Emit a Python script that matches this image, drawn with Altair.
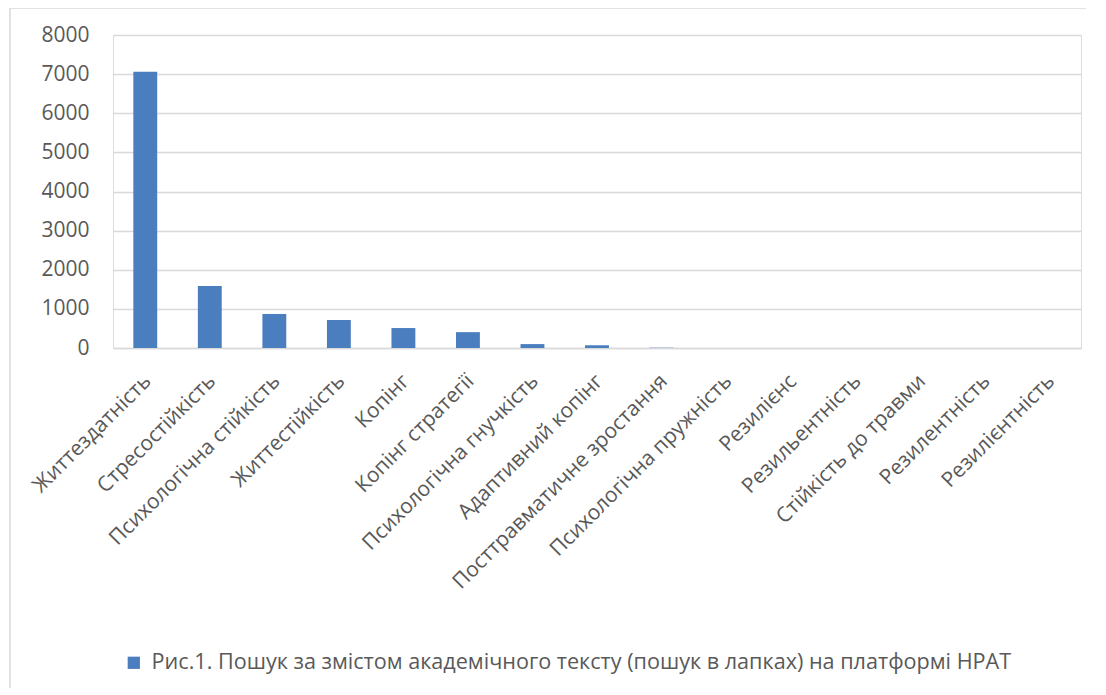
import altair as alt
import pandas as pd

categories = [
    "Життездатність", "Стресостійкість", "Психологічна стійкість", "Життестійкість",
    "Копінг", "Копінг стратегії", "Психологічна гнучкість", "Адаптивний копінг",
    "Посттравматичне зростання", "Психологічна пружність", "Резилієнс",
    "Резильентність", "Стійкість до травми", "Резилентність", "Резилієнтність",
]
values = [7060, 1585, 870, 715, 510, 405, 100, 70, 8, 0, 0, 0, 0, 0, 0]
series_name = "Рис.1. Пошук за змістом академічного тексту (пошук в лапках) на платформі НРАТ"
y_ticks = [0, 1000, 2000, 3000, 4000, 5000, 6000, 7000, 8000]

df = pd.DataFrame({"cat": categories, "val": values, "series": [series_name] * len(categories)})

FONT = "Open Sans"
GRAY = "#595959"
GRID = "#d9d9d9"
BAR = "#4a7ebf"

border = alt.Chart(pd.DataFrame({"a": [0]})).mark_rect(
    fill=None, stroke=GRID, strokeWidth=1.5, clip=False
).encode(
    x=alt.value(-103), x2=alt.value(1020), y=alt.value(-27), y2=alt.value(700)
)

bars = alt.Chart(df).mark_bar(color=BAR).encode(
    x=alt.X("cat:N", sort=None, title=None,
            scale=alt.Scale(paddingInner=0.63, paddingOuter=0.315),
            axis=alt.Axis(labelAngle=-45, labelColor=GRAY, labelFont=FONT, labelFontSize=21,
                          domainColor=GRID, domainWidth=1.5, ticks=False, labelPadding=22,
                          labelOffset=-5, labelLimit=400)),
    y=alt.Y("val:Q", title=None,
            scale=alt.Scale(domain=[0, 8000], nice=False),
            axis=alt.Axis(values=y_ticks, format="d", labelColor=GRAY, labelFont=FONT,
                          labelFontSize=21, domain=False, ticks=False, labelPadding=24,
                          gridColor=GRID, gridWidth=1.5)),
    color=alt.Color("series:N", scale=alt.Scale(range=[BAR]),
                    legend=alt.Legend(title=None, orient="none", legendX=10, legendY=617,
                                      symbolType="square", symbolSize=150, symbolStrokeWidth=0,
                                      labelFont=FONT, labelFontSize=21.6, labelColor=GRAY,
                                      labelOffset=7, labelLimit=1000, symbolOffset=0)),
)

chart = alt.layer(border, bars).properties(
    width=968, height=313,
    autosize=alt.AutoSizeParams(type="none"),
    padding={"left": 105, "top": 27, "right": 5, "bottom": 340},
).configure_view(stroke=None).configure(background="white")

chart.save("out.html", embed_options={"renderer": "svg", "actions": False})
